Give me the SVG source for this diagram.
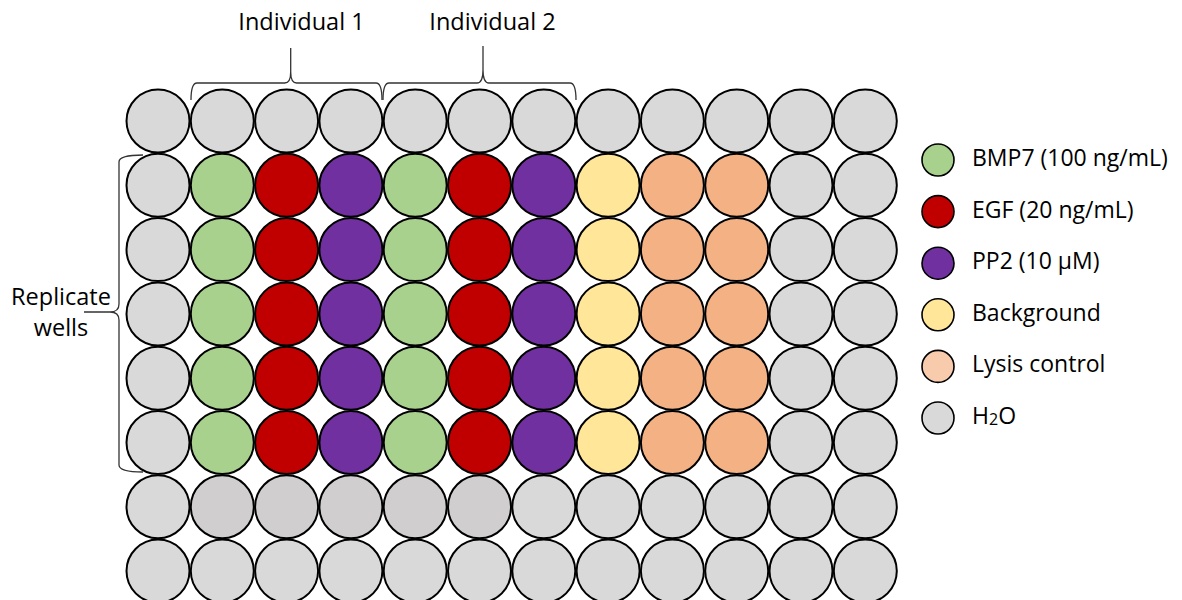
<svg xmlns="http://www.w3.org/2000/svg" width="1182" height="600" viewBox="0 0 1182 600">
<style>
.w{stroke:#000;stroke-width:2}
.lg{stroke:#000;stroke-width:1.6}
.h{fill:#d9d9d9}.g{fill:#a9d18e}.r{fill:#c00000}.p{fill:#7030a0}.y{fill:#ffe699}.o{fill:#f4b183}.d{fill:#d0cece}.lo{fill:#f8cbad}
text{font-family:"Open Sans","Liberation Sans",sans-serif;fill:#000}
.lab{font-size:23.5px}
.leg{font-size:23px}
.br{fill:none;stroke:#333;stroke-width:1.3}
</style>
<rect width="1182" height="600" fill="#fff"/>
<g id="connectors">
<path class="br" d="M191,100 Q191,83 197,83 L284.7,83 Q290.7,83 290.7,72 L290.7,48 M290.7,72 Q290.7,83 296.7,83 L376,83 Q382,83 382,100"/>
<path class="br" d="M383,100 Q383,83 389,83 L477,83 Q483,83 483,70 L483,46 M483,70 Q483,83 489,83 L570,83 Q576,83 576,100"/>
<path class="br" d="M143,155 Q119,155 119,162 L119,304 Q119,312 110,312 L84,312 M110,312 Q119,312 119,320 L119,465 Q119,472 143,472"/>
</g>
<g id="label-individual-1"><text class="lab" x="301.5" y="30" text-anchor="middle">Individual 1</text></g>
<g id="label-individual-2"><text class="lab" x="492.5" y="30" text-anchor="middle">Individual 2</text></g>
<g id="label-replicate"><text class="lab" x="61" y="305" text-anchor="middle">Replicate</text><text class="lab" x="61" y="336" text-anchor="middle">wells</text></g>
<g id="plate">
<g id="A1"><circle class="w h" cx="158" cy="121" r="31.5"/></g>
<g id="A2"><circle class="w h" cx="222.3" cy="121" r="31.5"/></g>
<g id="A3"><circle class="w h" cx="286.6" cy="121" r="31.5"/></g>
<g id="A4"><circle class="w h" cx="350.9" cy="121" r="31.5"/></g>
<g id="A5"><circle class="w h" cx="415.2" cy="121" r="31.5"/></g>
<g id="A6"><circle class="w h" cx="479.5" cy="121" r="31.5"/></g>
<g id="A7"><circle class="w h" cx="543.8" cy="121" r="31.5"/></g>
<g id="A8"><circle class="w h" cx="608.1" cy="121" r="31.5"/></g>
<g id="A9"><circle class="w h" cx="672.4" cy="121" r="31.5"/></g>
<g id="A10"><circle class="w h" cx="736.7" cy="121" r="31.5"/></g>
<g id="A11"><circle class="w h" cx="801" cy="121" r="31.5"/></g>
<g id="A12"><circle class="w h" cx="865.3" cy="121" r="31.5"/></g>

<g id="B1"><circle class="w h" cx="158" cy="185.3" r="31.5"/></g>
<g id="B2"><circle class="w g" cx="222.3" cy="185.3" r="31.5"/></g>
<g id="B3"><circle class="w r" cx="286.6" cy="185.3" r="31.5"/></g>
<g id="B4"><circle class="w p" cx="350.9" cy="185.3" r="31.5"/></g>
<g id="B5"><circle class="w g" cx="415.2" cy="185.3" r="31.5"/></g>
<g id="B6"><circle class="w r" cx="479.5" cy="185.3" r="31.5"/></g>
<g id="B7"><circle class="w p" cx="543.8" cy="185.3" r="31.5"/></g>
<g id="B8"><circle class="w y" cx="608.1" cy="185.3" r="31.5"/></g>
<g id="B9"><circle class="w o" cx="672.4" cy="185.3" r="31.5"/></g>
<g id="B10"><circle class="w o" cx="736.7" cy="185.3" r="31.5"/></g>
<g id="B11"><circle class="w h" cx="801" cy="185.3" r="31.5"/></g>
<g id="B12"><circle class="w h" cx="865.3" cy="185.3" r="31.5"/></g>

<g id="C1"><circle class="w h" cx="158" cy="249.6" r="31.5"/></g>
<g id="C2"><circle class="w g" cx="222.3" cy="249.6" r="31.5"/></g>
<g id="C3"><circle class="w r" cx="286.6" cy="249.6" r="31.5"/></g>
<g id="C4"><circle class="w p" cx="350.9" cy="249.6" r="31.5"/></g>
<g id="C5"><circle class="w g" cx="415.2" cy="249.6" r="31.5"/></g>
<g id="C6"><circle class="w r" cx="479.5" cy="249.6" r="31.5"/></g>
<g id="C7"><circle class="w p" cx="543.8" cy="249.6" r="31.5"/></g>
<g id="C8"><circle class="w y" cx="608.1" cy="249.6" r="31.5"/></g>
<g id="C9"><circle class="w o" cx="672.4" cy="249.6" r="31.5"/></g>
<g id="C10"><circle class="w o" cx="736.7" cy="249.6" r="31.5"/></g>
<g id="C11"><circle class="w h" cx="801" cy="249.6" r="31.5"/></g>
<g id="C12"><circle class="w h" cx="865.3" cy="249.6" r="31.5"/></g>

<g id="D1"><circle class="w h" cx="158" cy="313.9" r="31.5"/></g>
<g id="D2"><circle class="w g" cx="222.3" cy="313.9" r="31.5"/></g>
<g id="D3"><circle class="w r" cx="286.6" cy="313.9" r="31.5"/></g>
<g id="D4"><circle class="w p" cx="350.9" cy="313.9" r="31.5"/></g>
<g id="D5"><circle class="w g" cx="415.2" cy="313.9" r="31.5"/></g>
<g id="D6"><circle class="w r" cx="479.5" cy="313.9" r="31.5"/></g>
<g id="D7"><circle class="w p" cx="543.8" cy="313.9" r="31.5"/></g>
<g id="D8"><circle class="w y" cx="608.1" cy="313.9" r="31.5"/></g>
<g id="D9"><circle class="w o" cx="672.4" cy="313.9" r="31.5"/></g>
<g id="D10"><circle class="w o" cx="736.7" cy="313.9" r="31.5"/></g>
<g id="D11"><circle class="w h" cx="801" cy="313.9" r="31.5"/></g>
<g id="D12"><circle class="w h" cx="865.3" cy="313.9" r="31.5"/></g>

<g id="E1"><circle class="w h" cx="158" cy="378.2" r="31.5"/></g>
<g id="E2"><circle class="w g" cx="222.3" cy="378.2" r="31.5"/></g>
<g id="E3"><circle class="w r" cx="286.6" cy="378.2" r="31.5"/></g>
<g id="E4"><circle class="w p" cx="350.9" cy="378.2" r="31.5"/></g>
<g id="E5"><circle class="w g" cx="415.2" cy="378.2" r="31.5"/></g>
<g id="E6"><circle class="w r" cx="479.5" cy="378.2" r="31.5"/></g>
<g id="E7"><circle class="w p" cx="543.8" cy="378.2" r="31.5"/></g>
<g id="E8"><circle class="w y" cx="608.1" cy="378.2" r="31.5"/></g>
<g id="E9"><circle class="w o" cx="672.4" cy="378.2" r="31.5"/></g>
<g id="E10"><circle class="w o" cx="736.7" cy="378.2" r="31.5"/></g>
<g id="E11"><circle class="w h" cx="801" cy="378.2" r="31.5"/></g>
<g id="E12"><circle class="w h" cx="865.3" cy="378.2" r="31.5"/></g>

<g id="F1"><circle class="w h" cx="158" cy="442.5" r="31.5"/></g>
<g id="F2"><circle class="w g" cx="222.3" cy="442.5" r="31.5"/></g>
<g id="F3"><circle class="w r" cx="286.6" cy="442.5" r="31.5"/></g>
<g id="F4"><circle class="w p" cx="350.9" cy="442.5" r="31.5"/></g>
<g id="F5"><circle class="w g" cx="415.2" cy="442.5" r="31.5"/></g>
<g id="F6"><circle class="w r" cx="479.5" cy="442.5" r="31.5"/></g>
<g id="F7"><circle class="w p" cx="543.8" cy="442.5" r="31.5"/></g>
<g id="F8"><circle class="w y" cx="608.1" cy="442.5" r="31.5"/></g>
<g id="F9"><circle class="w o" cx="672.4" cy="442.5" r="31.5"/></g>
<g id="F10"><circle class="w o" cx="736.7" cy="442.5" r="31.5"/></g>
<g id="F11"><circle class="w h" cx="801" cy="442.5" r="31.5"/></g>
<g id="F12"><circle class="w h" cx="865.3" cy="442.5" r="31.5"/></g>

<g id="G1"><circle class="w h" cx="158" cy="506.8" r="31.5"/></g>
<g id="G2"><circle class="w d" cx="222.3" cy="506.8" r="31.5"/></g>
<g id="G3"><circle class="w d" cx="286.6" cy="506.8" r="31.5"/></g>
<g id="G4"><circle class="w d" cx="350.9" cy="506.8" r="31.5"/></g>
<g id="G5"><circle class="w d" cx="415.2" cy="506.8" r="31.5"/></g>
<g id="G6"><circle class="w d" cx="479.5" cy="506.8" r="31.5"/></g>
<g id="G7"><circle class="w h" cx="543.8" cy="506.8" r="31.5"/></g>
<g id="G8"><circle class="w h" cx="608.1" cy="506.8" r="31.5"/></g>
<g id="G9"><circle class="w h" cx="672.4" cy="506.8" r="31.5"/></g>
<g id="G10"><circle class="w h" cx="736.7" cy="506.8" r="31.5"/></g>
<g id="G11"><circle class="w h" cx="801" cy="506.8" r="31.5"/></g>
<g id="G12"><circle class="w h" cx="865.3" cy="506.8" r="31.5"/></g>

<g id="H1"><circle class="w h" cx="158" cy="571.1" r="31.5"/></g>
<g id="H2"><circle class="w h" cx="222.3" cy="571.1" r="31.5"/></g>
<g id="H3"><circle class="w h" cx="286.6" cy="571.1" r="31.5"/></g>
<g id="H4"><circle class="w h" cx="350.9" cy="571.1" r="31.5"/></g>
<g id="H5"><circle class="w h" cx="415.2" cy="571.1" r="31.5"/></g>
<g id="H6"><circle class="w h" cx="479.5" cy="571.1" r="31.5"/></g>
<g id="H7"><circle class="w h" cx="543.8" cy="571.1" r="31.5"/></g>
<g id="H8"><circle class="w h" cx="608.1" cy="571.1" r="31.5"/></g>
<g id="H9"><circle class="w h" cx="672.4" cy="571.1" r="31.5"/></g>
<g id="H10"><circle class="w h" cx="736.7" cy="571.1" r="31.5"/></g>
<g id="H11"><circle class="w h" cx="801" cy="571.1" r="31.5"/></g>
<g id="H12"><circle class="w h" cx="865.3" cy="571.1" r="31.5"/></g>
</g>
<g id="legend">
<g id="legend-bmp7"><circle class="lg g" cx="938" cy="160" r="16"/><text class="leg" x="972" y="166">BMP7 (100 ng/mL)</text></g>
<g id="legend-egf"><circle class="lg r" cx="938" cy="211.6" r="16"/><text class="leg" x="972" y="217.6">EGF (20 ng/mL)</text></g>
<g id="legend-pp2"><circle class="lg p" cx="938" cy="263.2" r="16"/><text class="leg" x="972" y="269.2">PP2 (10 μM)</text></g>
<g id="legend-background"><circle class="lg y" cx="938" cy="314.8" r="16"/><text class="leg" x="972" y="320.8">Background</text></g>
<g id="legend-lysis"><circle class="lg lo" cx="938" cy="366.4" r="16"/><text class="leg" x="972" y="372.4">Lysis control</text></g>
<g id="legend-h2o"><circle class="lg h" cx="938" cy="418" r="16"/><text class="leg" x="972" y="424">H<tspan font-size="16" dy="1">2</tspan><tspan dy="-1">O</tspan></text></g>
</g>
</svg>
